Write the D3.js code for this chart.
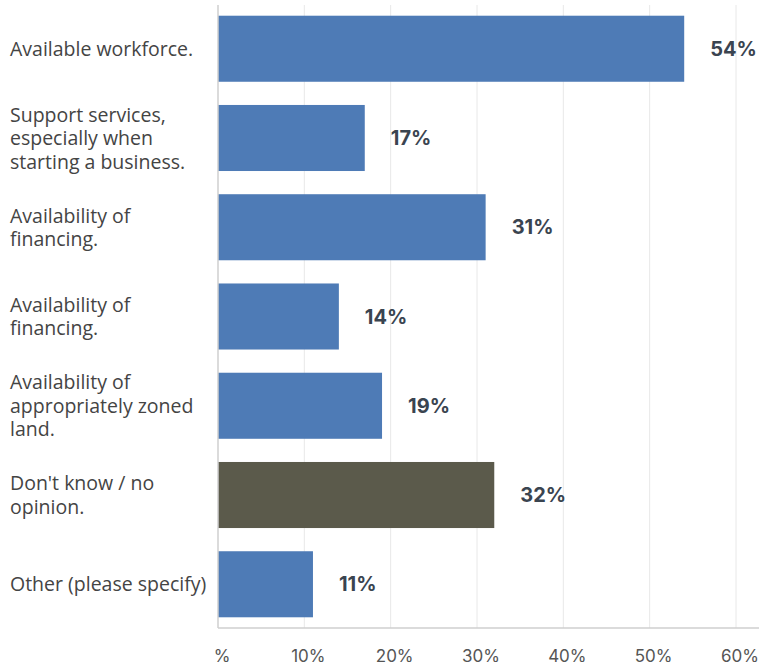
<!DOCTYPE html>
<html>
<head>
<meta charset="utf-8">
<script src="https://cdn.jsdelivr.net/npm/d3@7"></script>
<style>
  body { margin: 0; background: #fff; }
</style>
</head>
<body>
<div id="chart"></div>
<script>
const categories = [
    ["Available workforce."],
    ["Support services,", "especially when", "starting a business."],
    ["Availability of", "financing."],
    ["Availability of", "financing."],
    ["Availability of", "appropriately zoned", "land."],
    ["Don't know / no", "opinion."],
    ["Other (please specify)"]
];
const values = [54, 17, 31, 14, 19, 32, 11];
const barColors = ["#4e7bb6", "#4e7bb6", "#4e7bb6", "#4e7bb6", "#4e7bb6", "#5b5a4b", "#4e7bb6"];
const ticks = [0, 10, 20, 30, 40, 50, 60];
const tickLabels = ["%", "10%", "20%", "30%", "40%", "50%", "60%"];

const width = 761,
    height = 667,
    margin = { top: 5, right: 20, bottom: 39, left: 218 };

const svg = d3.select("#chart").append("svg")
    .attr("width", width)
    .attr("height", height);

const x = d3.scaleLinear()
    .domain([0, 60])
    .range([margin.left, margin.left + 518]);

const y = d3.scaleBand()
    .domain(d3.range(values.length))
    .range([margin.top, height - margin.bottom])
    .paddingInner(0.26)
    .paddingOuter(0.12);

// gridlines
svg.append("g")
    .selectAll("line")
    .data(ticks.slice(1))
    .join("line")
    .attr("x1", d => x(d))
    .attr("x2", d => x(d))
    .attr("y1", margin.top)
    .attr("y2", height - margin.bottom)
    .attr("stroke", "#e8e8e8")
    .attr("stroke-width", 1);

// bars
svg.append("g")
    .selectAll("rect")
    .data(values)
    .join("rect")
    .attr("x", x(0))
    .attr("y", (d, i) => y(i))
    .attr("width", d => x(d) - x(0))
    .attr("height", y.bandwidth())
    .attr("fill", (d, i) => barColors[i]);

// axis lines
svg.append("line")
    .attr("x1", x(0)).attr("x2", x(0))
    .attr("y1", margin.top).attr("y2", height - margin.bottom)
    .attr("stroke", "#cfcfcf").attr("stroke-width", 1.5);
svg.append("line")
    .attr("x1", x(0)).attr("x2", width - 2)
    .attr("y1", height - margin.bottom).attr("y2", height - margin.bottom)
    .attr("stroke", "#cfcfcf").attr("stroke-width", 1.5);

// tick labels
svg.append("g")
    .selectAll("text")
    .data(ticks)
    .join("text")
    .attr("x", d => x(d) + 4)
    .attr("y", height - 5)
    .attr("text-anchor", "middle")
    .style("font", "17px Inter, sans-serif")
    .attr("fill", "#555")
    .text((d, i) => tickLabels[i]);

// value labels
svg.append("g")
    .selectAll("text")
    .data(values)
    .join("text")
    .attr("x", d => x(d) + 26)
    .attr("y", (d, i) => y(i) + y.bandwidth() / 2)
    .attr("dy", "0.36em")
    .style("font", "bold 20px Inter, sans-serif")
    .attr("fill", "#3a4450")
    .text(d => d + "%");

// category labels
const lineH = 23.5;
const cat = svg.append("g")
    .selectAll("text")
    .data(categories)
    .join("text")
    .attr("x", 10)
    .attr("y", (d, i) => y(i) + y.bandwidth() / 2 - (d.length - 1) * lineH / 2)
    .style("font", "19.5px 'Open Sans', sans-serif")
    .attr("fill", "#444");

cat.selectAll("tspan")
    .data(d => d)
    .join("tspan")
    .attr("x", 10)
    .attr("dy", (d, i) => i === 0 ? "0.36em" : lineH)
    .text(d => d);
</script>
</body>
</html>
